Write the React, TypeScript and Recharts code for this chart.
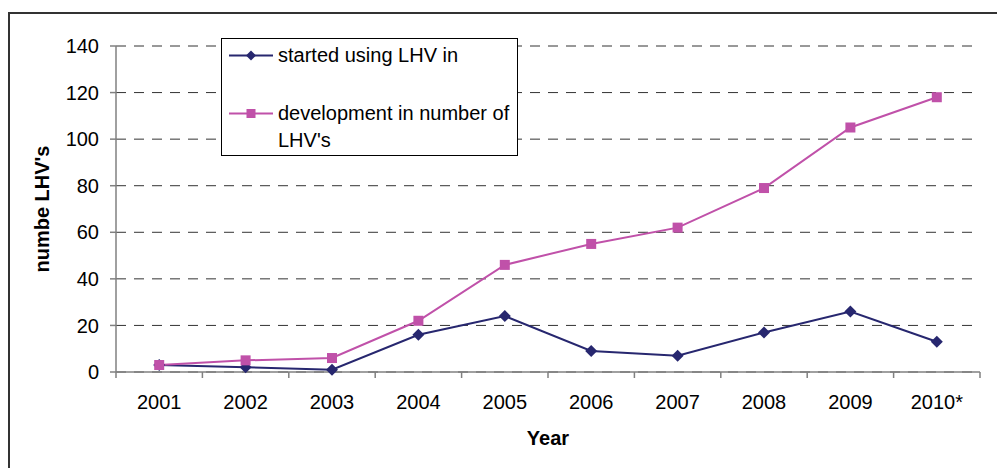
import { CartesianGrid, Legend, Line, LineChart, XAxis, YAxis } from "recharts";

const YEARS = ["2001", "2002", "2003", "2004", "2005", "2006", "2007", "2008", "2009", "2010*"];
const STARTED = [3, 2, 1, 16, 24, 9, 7, 17, 26, 13];
const DEVELOPMENT = [3, 5, 6, 22, 46, 55, 62, 79, 105, 118];
const Y_TICKS = [0, 20, 40, 60, 80, 100, 120, 140];
const SERIES_ORDER = ["started", "development"];

const NAVY = "#27276f";
const PINK = "#c051a9";
const AXIS = "#808080";
const FONT = "'Liberation Sans', Arial, sans-serif";

const data = YEARS.map((year, i) => ({
  year,
  started: STARTED[i],
  development: DEVELOPMENT[i],
}));

function Diamond({ cx, cy, r = 6, fill }: any) {
  if (cx == null || cy == null) return null;
  return <path d={`M${cx},${cy - r}L${cx + r},${cy}L${cx},${cy + r}L${cx - r},${cy}Z`} fill={fill} />;
}

function Square({ cx, cy, r = 5, fill }: any) {
  if (cx == null || cy == null) return null;
  return <rect x={cx - r} y={cy - r} width={r * 2} height={r * 2} fill={fill} />;
}

// Excel-style: tick marks sit between categories, labels in the middle
function YearTick(props: any) {
  const { x, y, payload, index, visibleTicksCount, width } = props;
  const count = visibleTicksCount ?? YEARS.length;
  const step = (width ?? 864) / count;
  const axisY = y - 6;
  return (
    <g>
      <line x1={x - step / 2} x2={x - step / 2} y1={axisY} y2={axisY + 6} stroke={AXIS} strokeWidth={1.5} />
      {index === count - 1 && (
        <line x1={x + step / 2} x2={x + step / 2} y1={axisY} y2={axisY + 6} stroke={AXIS} strokeWidth={1.5} />
      )}
      <text x={x} y={axisY + 37} textAnchor="middle" fontSize={20} fill="#000" fontFamily={FONT}>
        {payload.value}
      </text>
    </g>
  );
}

function YTitle({ viewBox }: any) {
  const cx = (viewBox?.x ?? 0) + 34;
  const cy = (viewBox?.y ?? 38) + (viewBox?.height ?? 326) / 2;
  return (
    <text
      x={cx}
      y={cy}
      transform={`rotate(-90 ${cx} ${cy})`}
      textAnchor="middle"
      dominantBaseline="central"
      fontSize={20}
      fontWeight="bold"
      fontFamily={FONT}
      fill="#000"
    >
      numbe LHV's
    </text>
  );
}

function XTitle({ viewBox }: any) {
  const cx = (viewBox?.x ?? 108) + (viewBox?.width ?? 864) / 2;
  const y = (viewBox?.y ?? 364) + 73;
  return (
    <text x={cx} y={y} textAnchor="middle" fontSize={20} fontWeight="bold" fontFamily={FONT} fill="#000">
      Year
    </text>
  );
}

function LegendBox({ payload }: any) {
  const rows = [2.5, 60.5];
  const items = [...(payload ?? [])].sort(
    (a: any, b: any) => SERIES_ORDER.indexOf(a.dataKey) - SERIES_ORDER.indexOf(b.dataKey)
  );
  return (
    <div
      style={{
        position: "relative",
        width: 297,
        height: 118,
        boxSizing: "border-box",
        border: "1px solid #000",
        background: "#fff",
        fontFamily: FONT,
        fontSize: 20,
        lineHeight: "27px",
        color: "#000",
      }}
    >
      {items.map((entry: any, i: number) => (
        <div key={entry.value} style={{ position: "absolute", left: 7, top: rows[i], display: "flex" }}>
          <svg width={44} height={27} style={{ flex: "none" }}>
            <line x1={0} x2={44} y1={13.5} y2={13.5} stroke={entry.color} strokeWidth={2} />
            {entry.dataKey === "started" ? (
              <Diamond cx={22} cy={13.5} r={5} fill={entry.color} />
            ) : (
              <Square cx={22} cy={13.5} r={4.5} fill={entry.color} />
            )}
          </svg>
          <div style={{ marginLeft: 5, width: 236 }}>{entry.value}</div>
        </div>
      ))}
    </div>
  );
}

export default function App() {
  return (
    <div style={{ position: "relative", width: 997, height: 460 }}>
      <div
        style={{
          position: "absolute",
          left: 0,
          top: 4,
          width: 1000,
          height: 460,
          borderLeft: "2px solid #333",
          borderTop: "2px solid #333",
        }}
      />
      <LineChart
        width={997}
        height={460}
        data={data}
        margin={{ top: 38, right: 25, bottom: 6, left: 0 }}
        style={{ position: "absolute", left: 0, top: 0 }}
      >
        <CartesianGrid vertical={false} stroke="#333" strokeDasharray="10 8" />
        <XAxis
          dataKey="year"
          scale="band"
          height={90}
          interval={0}
          tickSize={6}
          tickMargin={0}
          tickLine={false}
          axisLine={{ stroke: AXIS, strokeWidth: 1.5 }}
          tick={<YearTick />}
          label={<XTitle />}
        />
        <YAxis
          width={108}
          domain={[0, 140]}
          ticks={Y_TICKS}
          interval={0}
          tickSize={6}
          tickMargin={11}
          axisLine={{ stroke: AXIS, strokeWidth: 1.5 }}
          tickLine={{ stroke: AXIS, strokeWidth: 1.5 }}
          tick={{ fontSize: 20, fill: "#000", fontFamily: FONT }}
          label={<YTitle />}
        />
        <Legend
          layout="vertical"
          align="center"
          verticalAlign="middle"
          content={<LegendBox />}
          wrapperStyle={{ left: 213, top: 30, width: 297, height: 118 }}
        />
        <Line
          dataKey="started"
          name="started using LHV in"
          stroke={NAVY}
          strokeWidth={2}
          isAnimationActive={false}
          dot={(p: any) => <Diamond key={`s-${p.index}`} cx={p.cx} cy={p.cy} fill={NAVY} />}
          activeDot={false}
        />
        <Line
          dataKey="development"
          name="development in number of LHV's"
          stroke={PINK}
          strokeWidth={2}
          isAnimationActive={false}
          dot={(p: any) => <Square key={`d-${p.index}`} cx={p.cx} cy={p.cy} fill={PINK} />}
          activeDot={false}
        />
      </LineChart>
    </div>
  );
}
